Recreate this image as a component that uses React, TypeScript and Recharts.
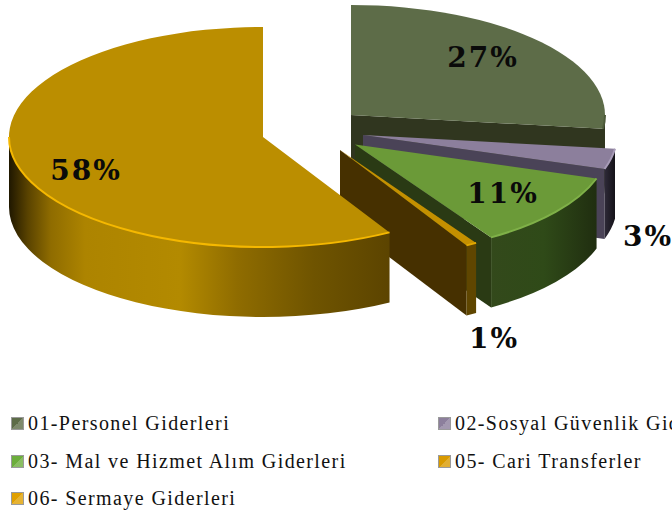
import React from "react";
import { PieChart, Pie, Legend } from "recharts";

const categories = [
  "01-Personel Giderleri",
  "02-Sosyal Güvenlik Giderleri",
  "03- Mal ve Hizmet Alım Giderleri",
  "05- Cari Transferler",
  "06- Sermaye Giderleri",
];
const shares = [27, 3, 11, 0.7, 58.3];

const topColors = ["#5d6c48", "#8c7f9c", "#6b9a38", "#c49000", "#bb8e00"];
const faceColors = ["#30361f", "#4a4357", "#2a3a14", "#463000", "#463000"];
const rimColors = ["#4d5a3a", "#a89cb8", "#7fb048", "#e0a800", "#f5b800"];
const legendColors = ["#5d6c48", "#8c7f9c", "#6cae3c", "#d99a00", "#e0a000"];
const wallStops: [number, string][][] = [
  [[0, "#30361f"], [1, "#30361f"]],
  [[0, "#2e2a38"], [1, "#141218"]],
  [[0, "#33491b"], [0.5, "#2f4a18"], [1, "#202e10"]],
  [[0, "#5f4600"], [1, "#5f4600"]],
  [[0, "#1f1700"], [0.05, "#5a4300"], [0.11, "#8f6c00"], [0.2, "#ad8400"], [0.45, "#b38a00"], [0.6, "#8f6c00"], [0.8, "#6f5400"], [1, "#5c4400"]],
];
const offsets = [
  [88, -22],
  [100, -2],
  [92, 7.5],
  [77, 13],
  [0, 0],
];
const labelCentres = [
  [483, 57],
  [648, 236],
  [503, 193],
  [494, 338],
  [86, 170],
];

const RX = 254;
const RY = 110;
const DEPTH = 70;
const rad = (d: number) => (d * Math.PI) / 180;

const tableRows = categories.map((name, i) => ({
  name,
  value: shares[i],
  fill: legendColors[i],
}));

function Slice3D(props: any) {
  const { cx, cy, startAngle, endAngle, index } = props;
  const a0 = 90 - startAngle;
  const a1 = 90 - endAngle;
  const [dx, dy] = offsets[index];
  const x0 = cx + dx;
  const y0 = cy + dy;
  const pt = (a: number, down = 0): [number, number] => [
    x0 + RX * Math.sin(rad(a)),
    y0 - RY * Math.cos(rad(a)) + down,
  ];
  const arc = (from: number, to: number, down = 0, move = true) => {
    const [sx, sy] = pt(from, down);
    const [ex, ey] = pt(to, down);
    const large = Math.abs(to - from) > 180 ? 1 : 0;
    const sweep = to > from ? 1 : 0;
    return `${move ? `M${sx},${sy}` : `L${sx},${sy}`} A${RX},${RY} 0 ${large} ${sweep} ${ex},${ey}`;
  };
  const face = (a: number) => {
    const [px, py] = pt(a);
    return `M${x0},${y0} L${px},${py} L${px},${py + DEPTH} L${x0},${y0 + DEPTH} Z`;
  };
  const wallFrom = Math.max(a0, 90);
  const wallTo = Math.min(a1, 270);
  const hasWall = wallTo > wallFrom;
  const gid = `wall-${index}`;
  const xa = hasWall ? Math.min(pt(wallFrom)[0], pt(wallTo)[0]) : 0;
  const xb = hasWall ? Math.max(pt(wallFrom)[0], pt(wallTo)[0]) : 1;
  const top = `M${x0},${y0} L${pt(a0)[0]},${pt(a0)[1]} ${arc(a0, a1).replace(/^M[^ ]+ /, "")} Z`;
  const showEndFace = Math.sin(rad(a1)) > 0.001;
  const showStartFace = Math.sin(rad(a0)) < -0.001;
  return (
    <g>
      <defs>
        <linearGradient id={gid} gradientUnits="userSpaceOnUse" x1={xa} x2={xb} y1={0} y2={0}>
          {wallStops[index].map(([o, c]) => (
            <stop key={o} offset={o} stopColor={c} />
          ))}
        </linearGradient>
      </defs>
      {showEndFace && <path d={face(a1)} fill={faceColors[index]} />}
      {showStartFace && <path d={face(a0)} fill={faceColors[index]} />}
      {hasWall && (
        <path
          d={`${arc(wallFrom, wallTo)} ${arc(wallTo, wallFrom, DEPTH, false)} Z`}
          fill={`url(#${gid})`}
        />
      )}
      <path d={top} fill={topColors[index]} />
      {hasWall && <path d={arc(wallFrom, wallTo)} fill="none" stroke={rimColors[index]} strokeWidth={2} />}
    </g>
  );
}

function renderLabel(props: any) {
  const { index, value } = props;
  const [x, y] = labelCentres[index];
  return (
    <text
      x={x}
      y={y}
      textAnchor="middle"
      dominantBaseline="central"
      fontFamily="'DejaVu Serif', serif"
      fontWeight="bold"
      fontSize={28}
      letterSpacing={2}
      fill="#0a0a0a"
    >
      {`${Math.round(value)}%`}
    </text>
  );
}

function LegendGrid(props: any) {
  const items = props.payload || [];
  return (
    <div
      style={{
        display: "grid",
        gridTemplateColumns: "427px 245px",
        gridAutoRows: "37.5px",
        fontFamily: "'Liberation Serif', serif",
        fontSize: 20,
        letterSpacing: 1.4,
        color: "#111",
        whiteSpace: "nowrap",
        overflow: "hidden",
      }}
    >
      {items.map((it: any) => (
        <div key={it.value} style={{ display: "flex", alignItems: "center", overflow: "hidden" }}>
          <span
            style={{
              width: 11,
              height: 11,
              marginRight: 4,
              flex: "none",
              boxSizing: "content-box",
              border: "1px solid #9a9a9a",
              background: `linear-gradient(135deg, ${it.color} 0 50%, ${it.color}cc 50% 100%)`,
            }}
          />
          {it.value}
        </div>
      ))}
    </div>
  );
}

export default function App() {
  return (
    <div style={{ position: "absolute", left: 0, top: 0, width: 672, height: 515, overflow: "hidden", background: "#fff" }}>
      <PieChart width={672} height={515} margin={{ top: 0, right: 0, bottom: 0, left: 0 }}>
        <Pie
          data={tableRows}
          dataKey="value"
          nameKey="name"
          cx={263}
          cy={137}
          outerRadius={254}
          startAngle={90}
          endAngle={-270}
          stroke="none"
          isAnimationActive={false}
          shape={Slice3D}
          label={renderLabel}
          labelLine={false}
        />
        <Legend
          content={LegendGrid}
          wrapperStyle={{ position: "absolute", left: 0, top: 405, width: 672, paddingLeft: 11, boxSizing: "border-box" }}
        />
      </PieChart>
    </div>
  );
}
